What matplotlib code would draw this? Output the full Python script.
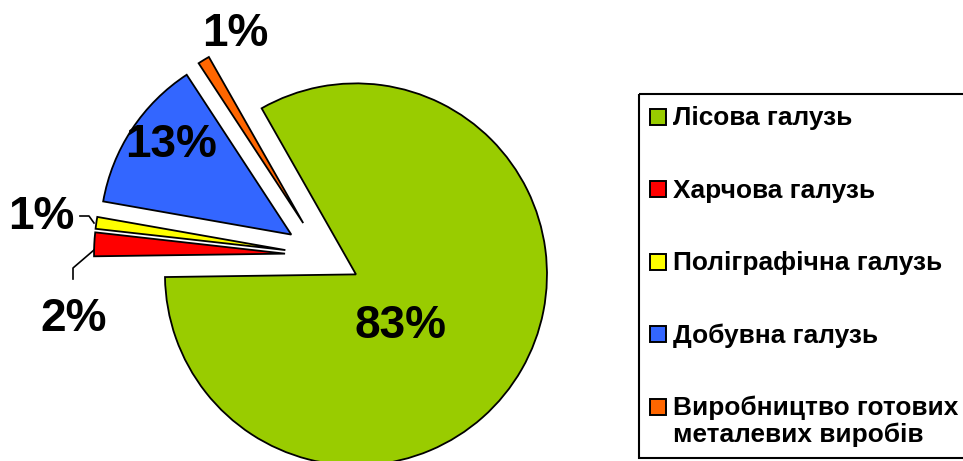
import matplotlib.pyplot as plt
from matplotlib.patches import Rectangle

plt.rcParams['font.family'] = ['Liberation Sans', 'DejaVu Sans']

# data
categories = ['Лісова галузь', 'Харчова галузь', 'Поліграфічна галузь',
              'Добувна галузь', 'Виробництво готових\nметалевих виробів']
shares = [83, 2, 1, 13, 1]
colors = ['#99CC00', '#FF0000', '#FFFF00', '#3366FF', '#FF6600']

W, H = 963, 461
fig = plt.figure(figsize=(W / 100, H / 100), dpi=100)
ax = fig.add_axes([0, 0, 1, 1])

# pixel coords, y axis pointing down -> angles mirrored
# (explode in matplotlib is an absolute offset, here in pixels)
wedges, _ = ax.pie(shares, colors=colors, startangle=-119.6, counterclock=True,
                   radius=191, center=(323, 255.5), explode=[38] * 5,
                   wedgeprops=dict(edgecolor='black', linewidth=1.3))
ax.set_xlim(0, W)
ax.set_ylim(H, 0)
ax.set_axis_off()

# percent labels (image pixel positions)
label_pos = [(401, 326), (74, 319), (41, 217), (171, 145), (235, 34)]
for v, (x, y) in zip(shares, label_pos):
    ax.text(x, y, f'{v}%', ha='center', va='center', fontsize=33,
            fontweight='bold', color='black')

# leader lines for the small slices
ax.plot([80, 89, 94], [216, 216, 223], color='black', lw=1.2)
ax.plot([94, 73, 73], [250, 268, 279], color='black', lw=1.2)

# legend drawn by hand
ax.add_patch(Rectangle((639, 94), 340, 364, facecolor='none',
                       edgecolor='black', lw=1.5, clip_on=False))
y0, step = 116.5, 72.5
for i, (lab, c) in enumerate(zip(categories, colors)):
    y = y0 + i * step
    ax.add_patch(Rectangle((650, y - 8), 16, 16, facecolor=c,
                           edgecolor='black', lw=1.4))
    lines = lab.split('\n')
    for j, line in enumerate(lines):
        ax.text(673, y + 1.5 + j * 27, line, ha='left', va='center',
                fontsize=18.9, fontweight='bold', color='black')

fig.savefig('out.png', dpi=100)
